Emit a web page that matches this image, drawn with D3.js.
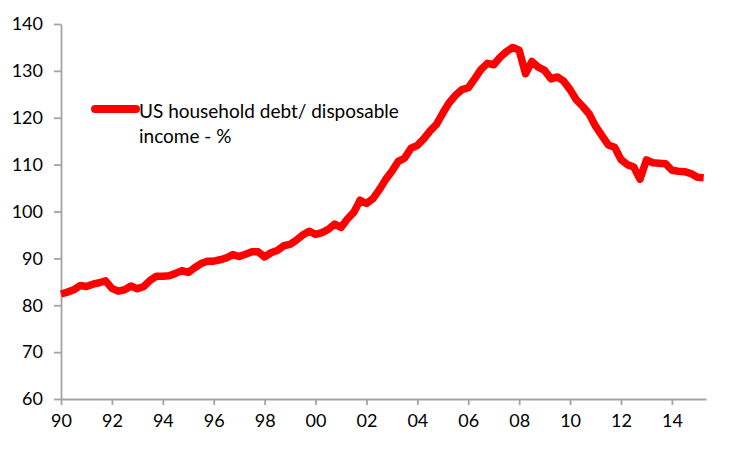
<!DOCTYPE html>
<html>
<head>
<meta charset="utf-8">
<script src="https://d3js.org/d3.v7.min.js"></script>
<style>
  body { margin: 0; background: #fff; }
  svg { display: block; }
</style>
</head>
<body>
<svg id="drawing_region"></svg>
<script>
// quarterly, 1990Q1 .. 2015Q2
const startYear = 1990;
const debtRatio = [
    82.4, 82.8, 83.3, 84.2, 84.0, 84.5, 84.8, 85.2,   // 90-91
    83.6, 83.0, 83.3, 84.1, 83.5, 84.0, 85.3, 86.2,   // 92-93
    86.2, 86.3, 86.8, 87.4, 87.0, 88.0, 88.9, 89.4,   // 94-95
    89.4, 89.7, 90.1, 90.8, 90.4, 90.9, 91.4, 91.4,   // 96-97
    90.3, 91.2, 91.7, 92.7, 93.0, 93.9, 95.0, 95.8,   // 98-99
    95.1, 95.5, 96.2, 97.3, 96.6, 98.4, 99.8, 102.4,  // 00-01
    101.7, 102.7, 104.6, 106.8, 108.6, 110.7, 111.4, 113.5, // 02-03
    114.1, 115.5, 117.2, 118.6, 121.0, 123.2, 124.8, 126.0, // 04-05
    126.4, 128.3, 130.3, 131.6, 131.3, 132.9, 134.1, 135.0, // 06-07
    134.4, 129.4, 132.0, 130.8, 130.1, 128.3, 128.7, 127.8, // 08-09
    126.0, 123.8, 122.4, 120.8, 118.2, 116.2, 114.2, 113.7, // 10-11
    111.1, 110.0, 109.5, 106.9, 111.0, 110.4, 110.3, 110.2, // 12-13
    108.8, 108.6, 108.5, 108.1, 107.3, 107.2                // 14-15
];
const xTickYears = [1990, 1992, 1994, 1996, 1998, 2000, 2002, 2004, 2006, 2008, 2010, 2012, 2014];
const yTicks = [60, 70, 80, 90, 100, 110, 120, 130, 140];
const seriesName = ["US household debt/ disposable", "income - %"];

const data = debtRatio.map( (v, i) => ({ t: startYear + i / 4, v: v }) );

var config = {
    parent: '#drawing_region',
    width: 750,
    height: 450,
    margin: {top: 24, right: 44, bottom: 51, left: 61}
};

class LineChart {

    constructor( config, data ) {
        this.config = config;
        this.data = data;
        this.init();
    }

    init() {
        let self = this;

        self.svg = d3.select( self.config.parent )
            .attr('width', self.config.width)
            .attr('height', self.config.height);

        self.chart = self.svg.append('g')
            .attr('transform', `translate(${self.config.margin.left}, ${self.config.margin.top})`);

        self.inner_width = self.config.width - self.config.margin.left - self.config.margin.right;
        self.inner_height = self.config.height - self.config.margin.top - self.config.margin.bottom;

        self.xscale = d3.scaleLinear()
            .domain( [1990, 2015.34] )
            .range( [0, self.inner_width] );

        self.yscale = d3.scaleLinear()
            .domain( [60, 140] )
            .range( [self.inner_height, 0] );

        self.xaxis = d3.axisBottom( self.xscale )
            .tickValues( xTickYears )
            .tickFormat( d => d3.format("02")(d % 100) )
            .tickSizeInner(6)
            .tickSizeOuter(0)
            .tickPadding(9);

        self.yaxis = d3.axisLeft( self.yscale )
            .tickValues( yTicks )
            .tickSizeInner(7)
            .tickSizeOuter(0)
            .tickPadding(11);

        self.xaxis_group = self.chart.append('g')
            .attr('transform', `translate(0, ${self.inner_height})`);

        self.yaxis_group = self.chart.append('g');

        self.line = d3.line()
            .x( d => self.xscale( d.t ) )
            .y( d => self.yscale( d.v ) );
    }

    render() {
        let self = this;

        self.xaxis_group.call( self.xaxis );
        self.yaxis_group.call( self.yaxis );

        self.chart.selectAll('.domain, .tick line')
            .attr('stroke', '#a3a3a3')
            .attr('stroke-width', 1.8);

        self.chart.selectAll('.tick text')
            .attr('font-family', 'Lato, sans-serif')
            .attr('font-size', '18px')
            .attr('fill', '#000');

        self.chart.append('path')
            .datum( self.data )
            .attr('d', self.line)
            .attr('fill', 'none')
            .attr('stroke', '#ff0000')
            .attr('stroke-width', 7.5)
            .attr('stroke-linejoin', 'round')
            .attr('stroke-linecap', 'butt');

        // legend
        const legend = self.svg.append('g')
            .attr('transform', 'translate(92, 109)');

        legend.append('line')
            .attr('x1', 3).attr('x2', 44)
            .attr('y1', 0).attr('y2', 0)
            .attr('stroke', '#ff0000')
            .attr('stroke-width', 8)
            .attr('stroke-linecap', 'round');

        legend.selectAll('text')
            .data( seriesName )
            .enter()
            .append('text')
            .text( d => d )
            .attr('x', 47)
            .attr('y', (d, i) => 9 + i * 24.5)
            .attr('font-family', 'Lato, sans-serif')
            .attr('font-size', '19px')
            .attr('fill', '#000');
    }
}

const line_chart = new LineChart( config, data );
line_chart.render();
</script>
</body>
</html>
